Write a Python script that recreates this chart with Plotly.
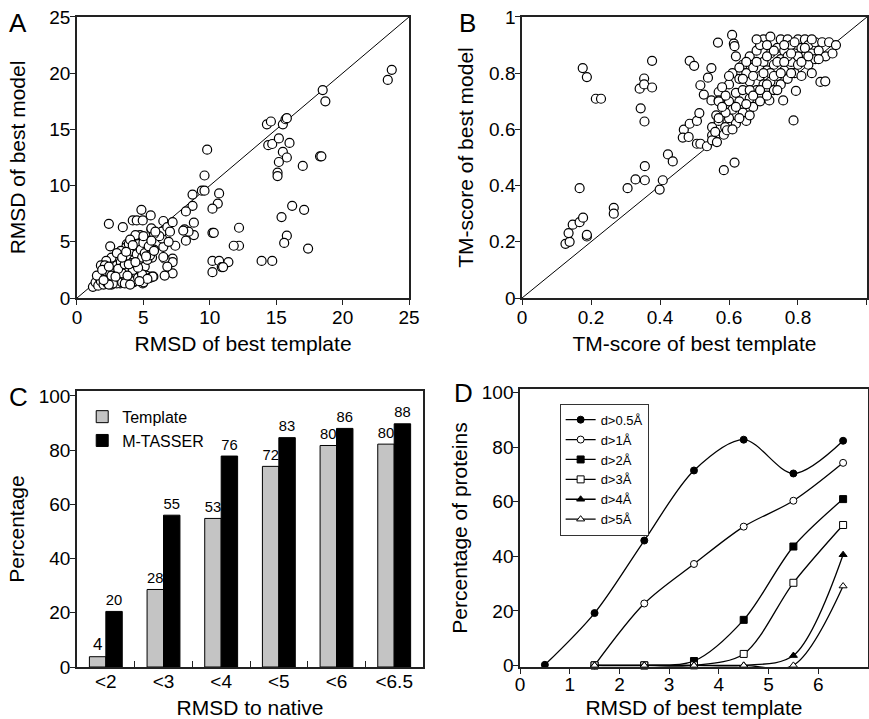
import plotly.graph_objects as go

# ---------------- Panel A data (RMSD) ----------------
a_tmpl = [23.4, 23.7, 18.5, 18.7, 14.3, 14.6, 15.5, 15.7, 15.8, 14.4, 14.7, 15.2, 16.0, 15.5, 15.8,
          15.2, 15.1, 15.1, 17.0, 18.3, 18.4, 9.8, 9.6, 10.7, 9.4, 9.6, 8.7, 8.7, 8.2, 10.6, 10.2,
          16.2, 17.1, 15.4, 15.8, 15.6, 17.4, 10.2, 10.3, 12.2, 12.2, 11.8, 10.2, 10.7, 11.4, 10.2,
          10.9, 11.0, 13.9, 14.7, 8.8, 8.8, 8.1, 8.4, 8.0, 8.2, 7.4, 7.2, 7.2, 7.2, 6.6, 6.6, 6.8,
          6.5, 6.5, 6.4, 6.4, 6.5, 6.8, 7.2, 6.2, 6.9, 7.0,
          2.4, 2.5, 3.45, 4.2, 4.5, 4.85, 4.95, 5.55, 5.6, 5.8, 4.75, 3.75, 4.4, 5.25, 5.8, 5.65,
          5.5, 5.75, 4.95, 4.25, 3.25,
          1.2, 1.4, 1.6, 1.7, 1.8, 1.9, 2.0, 2.0, 2.1, 2.2, 2.3, 2.3, 2.4, 2.5, 2.5, 2.6, 2.7, 2.8,
          2.8, 2.9, 3.0, 3.0, 3.1, 3.2, 3.2, 3.3, 3.4, 3.5, 3.5, 3.6, 3.7, 3.7, 3.8, 3.9, 4.0, 4.0,
          4.1, 4.2, 4.3, 4.3, 4.4, 4.5, 4.5, 4.6, 4.6, 4.7, 4.8, 4.8, 4.9, 5.0, 5.0, 5.1, 5.1, 5.2,
          5.3, 5.4, 5.5, 5.5, 5.6, 5.7, 5.8, 3.3, 3.9, 2.6, 2.2, 1.8, 4.4, 5.0, 5.6, 5.9, 4.0, 3.0,
          2.7, 2.4, 3.6, 4.0, 1.5, 2.0, 3.4, 4.2, 4.9, 5.3, 4.7, 3.8,
          2.1, 2.6, 3.1, 3.6, 4.1, 4.6, 5.2, 2.9, 3.4, 3.9, 4.4, 1.9, 2.4, 3.7, 4.2]
a_model = [19.4, 20.3, 18.5, 17.5, 15.45, 15.7, 15.45, 15.9, 16.0, 13.6, 13.7, 14.2, 13.8, 13.0, 12.5,
           12.1, 11.15, 10.85, 11.75, 12.6, 12.6, 13.2, 10.9, 9.3, 9.55, 9.55, 9.2, 8.2, 7.7, 8.4, 7.95,
           8.2, 7.85, 7.2, 5.55, 4.9, 4.4, 5.8, 5.8, 6.25, 4.65, 4.65, 3.3, 3.3, 3.2, 2.3,
           2.75, 2.75, 3.3, 3.3, 6.7, 5.6, 6.1, 5.9, 6.0, 5.1, 4.65, 3.5, 3.2, 2.2, 3.5, 2.0, 2.8,
           3.65, 4.55, 5.3, 5.9, 6.85, 6.3, 6.75, 5.5, 5.0, 5.9,
           6.6, 4.6, 6.3, 6.9, 6.9, 7.85, 6.9, 7.35, 6.1, 5.7, 5.6, 4.8, 4.5, 5.1, 4.3, 3.6,
           1.9, 1.9, 1.3, 1.4, 1.3,
           1.0, 1.4, 1.1, 1.8, 1.5, 2.2, 1.2, 2.7, 1.9, 2.4, 1.3, 3.0, 1.7, 2.2, 3.2, 1.2, 2.6, 1.6,
           3.5, 2.0, 1.3, 2.9, 3.7, 1.8, 2.4, 3.2, 1.4, 2.8, 3.9, 2.1, 1.6, 4.5, 3.3, 2.5, 1.9, 3.7,
           4.2, 2.9, 1.5, 3.4, 4.6, 2.2, 3.9, 1.8, 4.8, 3.0, 2.5, 4.3, 3.6, 1.4, 4.9, 2.8, 4.0, 2.0,
           3.4, 4.6, 1.8, 3.8, 5.1, 1.9, 4.2, 4.2, 4.8, 3.6, 3.3, 2.9, 5.6, 5.5, 6.2, 5.9, 5.2, 4.0,
           1.3, 1.2, 1.3, 1.2, 2.0, 1.6, 2.2, 2.5, 2.1, 1.7, 1.5, 2.0,
           2.9, 2.0, 2.6, 3.0, 3.1, 2.7, 3.7, 1.9, 3.6, 3.0, 3.2, 2.5, 2.8, 4.1, 4.7]

# ---------------- Panel B data (TM-score) ----------------
b_tmpl = [0.126, 0.138, 0.135, 0.147, 0.167, 0.167, 0.177, 0.188, 0.188, 0.176, 0.188, 0.214, 0.229,
          0.266, 0.266, 0.306, 0.329, 0.356, 0.356, 0.399, 0.408, 0.423, 0.437, 0.344, 0.355, 0.341,
          0.354, 0.354, 0.377, 0.377, 0.486, 0.499, 0.568, 0.585, 0.616, 0.787, 0.865, 0.879, 0.609,
          0.614, 0.616, 0.794, 0.757, 0.717,
          0.469, 0.466, 0.483, 0.486, 0.507, 0.514, 0.507, 0.517, 0.536, 0.517, 0.527, 0.539, 0.549,
          0.549, 0.551, 0.551, 0.551, 0.560, 0.565, 0.570, 0.585, 0.589, 0.594, 0.563, 0.570, 0.570,
          0.60, 0.60, 0.60, 0.61, 0.61, 0.62, 0.62, 0.62, 0.63, 0.63, 0.64, 0.64, 0.64, 0.65, 0.65,
          0.66, 0.66, 0.66, 0.67, 0.67, 0.68, 0.68, 0.69, 0.69, 0.70, 0.70, 0.70, 0.71, 0.71, 0.72,
          0.72, 0.72, 0.73, 0.73, 0.74, 0.74, 0.75, 0.75, 0.75, 0.76, 0.76, 0.77, 0.77, 0.78, 0.78,
          0.79, 0.79, 0.80, 0.80, 0.81, 0.81, 0.82, 0.82, 0.83, 0.83, 0.84, 0.84, 0.85, 0.85, 0.86,
          0.87, 0.88, 0.89, 0.90, 0.91,
          0.59, 0.59, 0.61, 0.63, 0.65, 0.66, 0.67, 0.68, 0.69, 0.71, 0.72, 0.74, 0.76, 0.77, 0.78,
          0.80, 0.62, 0.64, 0.65, 0.67, 0.70, 0.73, 0.76, 0.79, 0.82, 0.84, 0.86, 0.66, 0.69, 0.71,
          0.73, 0.74, 0.78, 0.81, 0.83, 0.63, 0.60, 0.68, 0.71, 0.75, 0.57, 0.58, 0.58, 0.57]
b_model = [0.193, 0.200, 0.231, 0.261, 0.391, 0.270, 0.286, 0.219, 0.225, 0.818, 0.786, 0.709, 0.709,
           0.321, 0.300, 0.391, 0.422, 0.419, 0.469, 0.386, 0.419, 0.511, 0.486, 0.675, 0.628, 0.745,
           0.781, 0.760, 0.749, 0.844, 0.844, 0.826, 0.909, 0.455, 0.482, 0.632, 0.769, 0.771, 0.936,
           0.905, 0.896, 0.737, 0.703, 0.703,
           0.599, 0.571, 0.573, 0.620, 0.630, 0.658, 0.549, 0.549, 0.540, 0.757, 0.724, 0.784, 0.818,
           0.703, 0.608, 0.579, 0.561, 0.591, 0.555, 0.630, 0.581, 0.608, 0.597, 0.650, 0.733, 0.703,
           0.64, 0.70, 0.76, 0.80, 0.67, 0.73, 0.62, 0.86, 0.78, 0.70, 0.66, 0.83, 0.74, 0.63, 0.80,
           0.71, 0.77, 0.86, 0.68, 0.82, 0.74, 0.88, 0.79, 0.70, 0.84, 0.76, 0.92, 0.72, 0.81, 0.87,
           0.77, 0.93, 0.83, 0.74, 0.89, 0.79, 0.85, 0.76, 0.92, 0.81, 0.88, 0.78, 0.92, 0.84, 0.90,
           0.80, 0.87, 0.92, 0.83, 0.89, 0.79, 0.86, 0.92, 0.83, 0.90, 0.87, 0.80, 0.91, 0.85, 0.88,
           0.91, 0.86, 0.91, 0.87, 0.90,
           0.72, 0.66, 0.60, 0.64, 0.69, 0.74, 0.79, 0.84, 0.90, 0.86, 0.80, 0.84, 0.90, 0.86, 0.80,
           0.86, 0.68, 0.78, 0.84, 0.72, 0.80, 0.88, 0.84, 0.91, 0.89, 0.92, 0.85, 0.65, 0.74, 0.76,
           0.79, 0.74, 0.87, 0.84, 0.86, 0.82, 0.79, 0.92, 0.90, 0.80, 0.70, 0.75, 0.68, 0.64]

# ---------------- Panel C data ----------------
c_categories = ["<2", "<3", "<4", "<5", "<6", "<6.5"]
c_template = [3.8, 28.6, 54.8, 74.0, 81.7, 82.2]
c_mtasser = [20.5, 56.0, 77.8, 84.6, 88.0, 89.7]
c_template_labels = ["4", "28", "53", "72", "80", "80"]
c_mtasser_labels = ["20", "55", "76", "83", "86", "88"]

# ---------------- Panel D data ----------------
d_names = ["d>0.5Å", "d>1Å", "d>2Å", "d>3Å", "d>4Å", "d>5Å"]
d_x = [
    [0.5, 1.5, 2.5, 3.5, 4.5, 5.5, 6.5],
    [1.5, 2.5, 3.5, 4.5, 5.5, 6.5],
    [1.5, 2.5, 3.5, 4.5, 5.5, 6.5],
    [1.5, 2.5, 3.5, 4.5, 5.5, 6.5],
    [1.5, 2.5, 3.5, 4.5, 5.5, 6.5],
    [1.5, 2.5, 3.5, 4.5, 5.5, 6.5],
]
d_y = [
    [0.2, 19.2, 45.8, 71.5, 82.8, 70.4, 82.4],
    [0.0, 22.7, 37.2, 50.9, 60.4, 74.3],
    [0.0, 0.0, 1.6, 16.7, 43.6, 61.0],
    [0.0, 0.0, 0.0, 4.2, 30.3, 51.5],
    [0.0, 0.0, 0.0, 0.0, 3.6, 40.6],
    [0.0, 0.0, 0.0, 0.0, 0.0, 29.1],
]
d_symbols = ["circle", "circle", "square", "square", "triangle-up", "triangle-up"]
d_fills = ["black", "white", "black", "white", "black", "white"]

diag_a = [0, 25]
diag_b = [0, 1]

FONT = "Liberation Sans, Arial, Helvetica, sans-serif"
AX = "#222222"

fig = go.Figure()

circ = dict(size=9, color="white", symbol="circle", line=dict(color="black", width=1.2))

# Panel A
fig.add_trace(go.Scatter(x=diag_a, y=diag_a, mode="lines", line=dict(color="black", width=1),
                         showlegend=False, xaxis="x", yaxis="y", hoverinfo="skip"))
fig.add_trace(go.Scatter(x=a_tmpl, y=a_model, mode="markers", marker=circ, showlegend=False,
                         xaxis="x", yaxis="y", cliponaxis=False))
# Panel B
fig.add_trace(go.Scatter(x=diag_b, y=diag_b, mode="lines", line=dict(color="black", width=1),
                         showlegend=False, xaxis="x2", yaxis="y2", hoverinfo="skip"))
fig.add_trace(go.Scatter(x=b_tmpl, y=b_model, mode="markers", marker=circ, showlegend=False,
                         xaxis="x2", yaxis="y2", cliponaxis=False))
# Panel C
fig.add_trace(go.Bar(x=c_categories, y=c_template, name="Template", text=c_template_labels,
                     textposition="outside", textfont=dict(size=17, color="black", family=FONT),
                     marker=dict(color="#c4c4c4", line=dict(color="black", width=1)),
                     xaxis="x3", yaxis="y3", legend="legend", cliponaxis=False))
fig.add_trace(go.Bar(x=c_categories, y=c_mtasser, name="M-TASSER", text=c_mtasser_labels,
                     textposition="outside", textfont=dict(size=17, color="black", family=FONT),
                     marker=dict(color="black", line=dict(color="black", width=1)),
                     xaxis="x3", yaxis="y3", legend="legend", cliponaxis=False))
# Panel D
for name, xs, ys, sym, fillc in zip(d_names, d_x, d_y, d_symbols, d_fills):
    fig.add_trace(go.Scatter(x=xs, y=ys, name=name, mode="lines+markers",
                             line=dict(color="black", width=1.3, shape="spline", smoothing=0.9),
                             marker=dict(symbol=sym, size=7, color=fillc,
                                         line=dict(color="black", width=1)),
                             xaxis="x4", yaxis="y4", legend="legend2", cliponaxis=False))


def axstyle(**kw):
    d = dict(showline=True, mirror=True, linecolor=AX, linewidth=1.5, showgrid=False,
             zeroline=False, ticks="outside", ticklen=5, tickwidth=1.2, tickcolor=AX,
             automargin=False, ticklabelstandoff=-4,
             tickfont=dict(size=19, color="black", family=FONT),
             title_font=dict(size=21, color="black", family=FONT))
    d.update(kw)
    return d


fig.update_layout(
    width=869, height=719,
    margin=dict(l=0, r=0, t=0, b=0),
    paper_bgcolor="white", plot_bgcolor="white",
    font=dict(family=FONT, color="black"),
    barmode="group", bargap=0.43, bargroupgap=0,
    xaxis=axstyle(domain=[0.0886, 0.4707], anchor="y", range=[0, 25], tickvals=[0, 5, 10, 15, 20, 25],
                  title=dict(text="RMSD of best template", standoff=10)),
    yaxis=axstyle(domain=[0.5855, 0.9764], anchor="x", range=[0, 25], tickvals=[0, 5, 10, 15, 20, 25],
                  title=dict(text="RMSD of best model", standoff=18)),
    xaxis2=axstyle(domain=[0.6007, 0.9977], anchor="y2", range=[0, 1],
                   tickvals=[0, 0.2, 0.4, 0.6, 0.8, 1], ticktext=["0", "0.2", "0.4", "0.6", "0.8", "1"],
                   title=dict(text="TM-score of best template", standoff=10)),
    yaxis2=axstyle(domain=[0.5855, 0.9764], anchor="x2", range=[0, 1],
                   tickvals=[0, 0.2, 0.4, 0.6, 0.8, 1], ticktext=["0", "0.2", "0.4", "0.6", "0.8", "1"],
                   title=dict(text="TM-score of best model", standoff=10)),
    xaxis3=axstyle(domain=[0.0886, 0.4868], anchor="y3", range=[-0.5, 5.5], ticks="inside",
                   tickson="boundaries", ticklen=6,
                   title=dict(text="RMSD to native", standoff=10)),
    yaxis3=axstyle(domain=[0.0723, 0.4562], anchor="x3", range=[0, 101.8],
                   tickvals=[0, 20, 40, 60, 80, 100],
                   title=dict(text="Percentage", standoff=8)),
    xaxis4=axstyle(domain=[0.5984, 0.9988], anchor="y4", range=[0, 7], tickvals=[0, 1, 2, 3, 4, 5, 6],
                   ticklabelstandoff=-6,
                   title=dict(text="RMSD of best template", standoff=12)),
    yaxis4=axstyle(domain=[0.0723, 0.4590], anchor="x4", range=[-0.6, 101.4],
                   tickvals=[0, 20, 40, 60, 80, 100],
                   title=dict(text="Percentage of proteins", standoff=8)),
    legend=dict(x=0.0946, y=0.444, xanchor="left", yanchor="top", bgcolor="rgba(0,0,0,0)",
                font=dict(size=16, family=FONT, color="black"), tracegroupgap=0),
    legend2=dict(x=0.644, y=0.4385, xanchor="left", yanchor="top", bgcolor="white",
                 bordercolor="#333333", borderwidth=1,
                 font=dict(size=13, family=FONT, color="black"), tracegroupgap=0),
)

for txt, xp, yp in [("A", 18, 23), ("B", 467, 23), ("C", 18, 397), ("D", 463, 393)]:
    fig.add_annotation(text=txt, x=xp / 869, y=1 - yp / 719, xref="paper", yref="paper",
                       xanchor="center", yanchor="middle",
                       showarrow=False, font=dict(size=26, family=FONT, color="black"))

fig.write_html("out.html", config={"displayModeBar": False},
               post_script="document.body.style.margin='0px';")
